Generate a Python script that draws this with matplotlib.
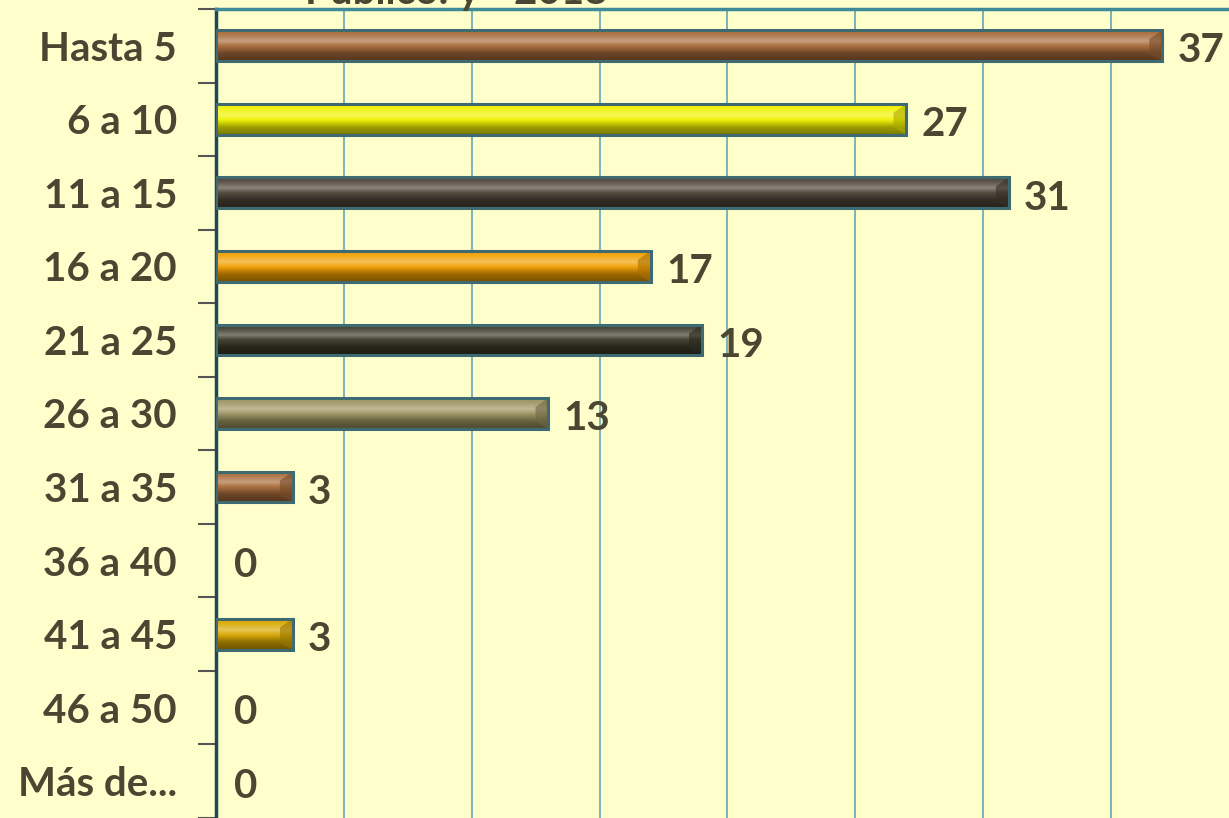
import numpy as np
import matplotlib.pyplot as plt
from matplotlib.colors import to_rgb
from matplotlib.patches import Rectangle, Polygon

# data
categories = ['Hasta 5', '6 a 10', '11 a 15', '16 a 20', '21 a 25', '26 a 30',
              '31 a 35', '36 a 40', '41 a 45', '46 a 50', 'Más de...']
values = [37, 27, 31, 17, 19, 13, 3, 0, 3, 0, 0]
base_colors = ['#a86b3a', '#f2f200', '#4d4338', '#f2a000', '#3b3a2a', '#9c9360',
               '#a86b3a', '#a86b3a', '#d9a800', '#a86b3a', '#a86b3a']
title_text = 'Público: y - 2018'

BG = '#ffffcc'
TXT = '#4b4632'
FONT = ['Lato', 'DejaVu Sans']
FS = 29


def shade(c, f):
    c = np.array(to_rgb(c))
    if f >= 0:
        return c + (1 - c) * f
    return c * (1 + f)


def bevel_strip(c):
    # vertical profile of the bevelled bar, top to bottom
    stops = [(0.0, shade(c, 0.0)), (0.15, shade(c, 0.1)), (0.35, shade(c, 0.35)),
             (0.5, shade(c, 0.05)), (0.75, shade(c, -0.35)), (1.0, shade(c, -0.5))]
    n = 60
    t = np.linspace(0, 1, n)
    pos = [s[0] for s in stops]
    img = np.zeros((n, 1, 3))
    for k in range(3):
        img[:, 0, k] = np.interp(t, pos, [s[1][k] for s in stops])
    return np.clip(img, 0, 1)


fig = plt.figure(figsize=(12.29, 8.18), dpi=100)
fig.patch.set_facecolor(BG)
ax = fig.add_axes([216 / 1229, 0, 1 - 216 / 1229, 1 - 9 / 818])
ax.set_facecolor(BG)

n = len(categories)
y = np.arange(n)
h = 0.42
xmax = 39.62
ax.set_xlim(0, xmax)
ax.set_ylim(n - 0.5, -0.5)

for i, (v, c) in enumerate(zip(values, base_colors)):
    if v <= 0:
        ax.text(0.7, i + 0.07, '0', ha='left', va='center', fontsize=FS,
                fontweight='bold', color=TXT, family=FONT)
        continue
    top, bot = i - h / 2, i + h / 2
    ax.imshow(bevel_strip(c), extent=(0, v, bot, top), aspect='auto',
              interpolation='bilinear', zorder=3)
    # bevelled end cap
    cap = 0.5
    ax.add_patch(Polygon([[v - cap, top + 0.12], [v, top], [v, bot], [v - cap, bot - 0.1]],
                         closed=True, facecolor=shade(c, -0.3), edgecolor='none',
                         alpha=0.6, zorder=3.5))
    ax.add_patch(Rectangle((0, top), v, h, fill=False, edgecolor='#3f6a72',
                           linewidth=2.2, zorder=4))
    ax.text(v + 0.6, i + 0.07, str(v), ha='left', va='center', fontsize=FS,
            fontweight='bold', color=TXT, family=FONT)

ax.set_xticks(np.arange(5, 40, 5))
ax.xaxis.grid(True, color='#5a9fb0', linewidth=1.1)
ax.set_axisbelow(True)
ax.tick_params(axis='x', length=0, labelbottom=False)

ax.set_yticks(y)
ax.set_yticklabels(categories, fontsize=FS, fontweight='bold', color=TXT, family=FONT)
ax.set_yticks(np.arange(-0.5, n, 1.0), minor=True)
ax.tick_params(axis='y', which='major', length=0, pad=28)
ax.tick_params(axis='y', which='minor', length=13, width=1.5, color='#555555')

for s in ['right', 'bottom']:
    ax.spines[s].set_visible(False)
ax.spines['left'].set_color('#1d4755')
ax.spines['left'].set_linewidth(2.5)
ax.spines['top'].set_color('#3d8a99')
ax.spines['top'].set_linewidth(2.5)

fig.text(305 / 1229, 1 - 4 / 818, title_text, ha='left', va='baseline',
         fontsize=FS, fontweight='bold', color=TXT, family=FONT)

fig.savefig('out.png', dpi=100, facecolor=BG)
